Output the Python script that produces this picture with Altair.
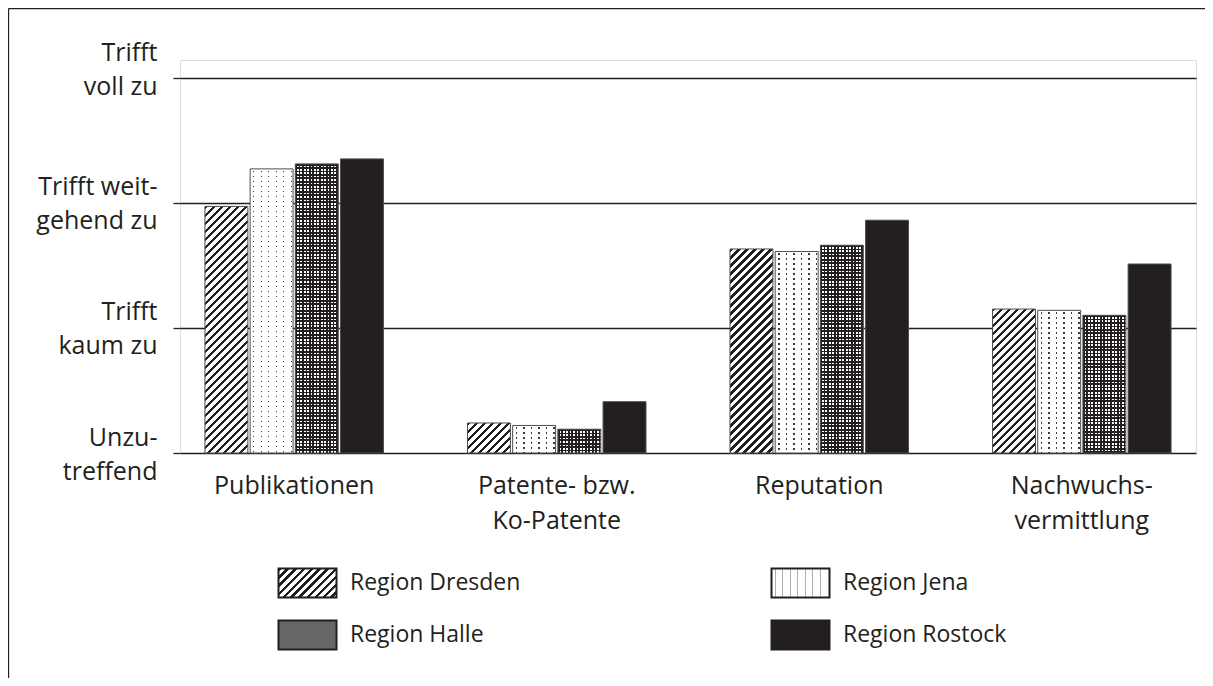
import altair as alt
import pandas as pd

# ---------------- data ----------------
categories = ["Publikationen", "Patente- bzw. Ko-Patente", "Reputation", "Nachwuchsvermittlung"]
category_lines = [["Publikationen"], ["Patente- bzw.", "Ko-Patente"], ["Reputation"], ["Nachwuchs-", "vermittlung"]]
regions = ["Region Dresden", "Region Jena", "Region Halle", "Region Rostock"]
dresden = [2.97, 1.24, 2.63, 2.15]
jena = [3.27, 1.22, 2.61, 2.14]
halle = [3.31, 1.19, 2.66, 2.10]
rostock = [3.35, 1.41, 2.86, 2.51]
tick_values = [1, 2, 3, 4]
tick_lines = [["Unzu-", "treffend"], ["Trifft", "kaum zu"], ["Trifft weit-", "gehend zu"], ["Trifft", "voll zu"]]

series = [dresden, jena, halle, rostock]
rows = []
for ci, cat in enumerate(categories):
    for region, vals in zip(regions, series):
        rows.append({"category": cat, "region": region, "value": vals[ci]})
df = pd.DataFrame(rows)

INK = "#231f20"
FONT = "Open Sans"
CLEAR = "rgba(255,255,255,0)"


def stops_js(n, segments):
    out = []
    for k in range(n):
        for s, e, col in segments:
            out.append("{offset:%.5f,color:'%s'}" % ((k + s) / n, col))
            out.append("{offset:%.5f,color:'%s'}" % ((k + e) / n, col))
    return "[" + ",".join(out) + "]"


# hatch (diagonal) pattern: period 8px along x+y
HATCH_N, HATCH_P = 45, 8.0
HATCH_L = HATCH_N * HATCH_P
hatch_stops = stops_js(HATCH_N, [(0, 0.42, INK), (0.42, 1.0, "#ffffff")])

# Jena dots: vertical thin lines + white rows overlay
JV_N, JV_P = 7, 7.5
JV_L = JV_N * JV_P
jena_v_stops = stops_js(JV_N, [(0, 0.42, "#ffffff"), (0.42, 0.58, "#3a3a3a"), (0.58, 1.0, "#ffffff")])
JH_N, JH_P = 66, 5.0
JH_L = JH_N * JH_P
jena_h_stops = stops_js(JH_N, [(0, 0.36, "#ffffff"), (0.36, 0.64, CLEAR), (0.64, 1.0, "#ffffff")])

# Halle checker: vertical black/white stripes + horizontal black/clear overlay
HV_N, HV_P = 15, 3.4
HV_L = HV_N * HV_P
halle_v_stops = stops_js(HV_N, [(0, 0.5, INK), (0.5, 1.0, "#ffffff")])
HH_N, HH_P = 95, 3.4
HH_L = HH_N * HH_P
halle_h_stops = stops_js(HH_N, [(0, 0.5, INK), (0.5, 1.0, CLEAR)])

W = "bandwidth('xOffset')"
H = "(scale('y',1)-scale('y',datum.value))"

hatch_expr = ("{gradient:'linear',x1:0,y1:0,x2:(%s)*%g/((%s)*(%s)+%s*%s),y2:%s*%g/((%s)*(%s)+%s*%s),stops:%s}"
              % (W, HATCH_L, W, W, H, H, H, HATCH_L, W, W, H, H, hatch_stops))
jena_v_expr = "{gradient:'linear',x1:0,y1:0,x2:%g/(%s),y2:0,stops:%s}" % (JV_L, W, jena_v_stops)
jena_h_expr = "{gradient:'linear',x1:0,y1:0,x2:0,y2:%g/%s,stops:%s}" % (JH_L, H, jena_h_stops)
halle_v_expr = "{gradient:'linear',x1:0,y1:0,x2:%g/(%s),y2:0,stops:%s}" % (HV_L, W, halle_v_stops)
halle_h_expr = "{gradient:'linear',x1:0,y1:0,x2:0,y2:%g/%s,stops:%s}" % (HH_L, H, halle_h_stops)

base_fill = ("datum.region=='%s'?%s:datum.region=='%s'?%s:datum.region=='%s'?%s:'%s'"
             % (regions[0], hatch_expr, regions[1], jena_v_expr, regions[2], halle_v_expr, INK))
over_fill = ("datum.region=='%s'?%s:datum.region=='%s'?%s:'%s'"
             % (regions[1], jena_h_expr, regions[2], halle_h_expr, CLEAR))

# legend symbol gradients (symbol box 58 x 29)
LW, LH = 58.0, 29.0
legend_hatch = ("{gradient:'linear',x1:0,y1:0,x2:%g,y2:%g,stops:%s}"
                % (LW * HATCH_L / (LW * LW + LH * LH), LH * HATCH_L / (LW * LW + LH * LH), hatch_stops))
legend_jena = "{gradient:'linear',x1:0,y1:0,x2:%g,y2:0,stops:%s}" % (
    JV_L / LW, stops_js(JV_N, [(0, 0.42, "#ffffff"), (0.42, 0.58, "#b0b0b0"), (0.58, 1.0, "#ffffff")]))
legend_range = [{"expr": legend_hatch}, {"expr": legend_jena}, "#666666", INK]


def lines_expr(keys, lines, is_num):
    parts = []
    for k, ls in zip(keys, lines):
        key = str(k) if is_num else "'%s'" % k
        arr = "[" + ",".join("'%s'" % l for l in ls) + "]"
        parts.append("datum.value==%s?%s" % (key, arr))
    return ":".join(parts) + ":''"


x_enc = alt.X(
    "category:N", sort=categories,
    scale=alt.Scale(paddingInner=0.32, paddingOuter=0.095),
    axis=alt.Axis(title=None, ticks=False, domain=False, labelAngle=0, labelPadding=20,
                  labelFont=FONT, labelFontSize=25, labelColor=INK, labelLineHeight=35,
                  labelBaseline="top", labelOverlap=False,
                  labelExpr=lines_expr(categories, category_lines, False)),
)
xo_enc = alt.XOffset("region:N", sort=regions, scale=alt.Scale(paddingInner=0.05, paddingOuter=0))
y_enc = alt.Y(
    "value:Q",
    scale=alt.Scale(domain=[1, 4.14], zero=False, nice=False),
    axis=alt.Axis(title=None, values=tick_values, domain=False, tickSize=7, tickColor=INK, tickWidth=1.3,
                  grid=True, gridColor=INK, gridWidth=1.3, labelPadding=16, labelFont=FONT,
                  labelFontSize=25, labelColor=INK, labelLineHeight=34, labelBaseline="middle",
                  labelOverlap=False, labelFlush=False,
                  labelOffset={"condition": {"test": "datum.value == 4", "value": -25}, "value": -16},
                  labelExpr=lines_expr(tick_values, tick_lines, True)),
)
x_plain = alt.X("category:N", sort=categories)
xo_plain = alt.XOffset("region:N", sort=regions)

base = alt.Chart(df)
bars = base.mark_bar(strokeWidth=0).encode(
    x=x_enc, xOffset=xo_enc, y=y_enc, y2=alt.datum(1), fill=alt.value({"expr": base_fill})
)
overlay = base.mark_bar(stroke="#4d4d4d", strokeWidth=1).encode(
    x=x_plain, xOffset=xo_plain, y="value:Q", y2=alt.datum(1), fill=alt.value({"expr": over_fill})
)
legend_layer = base.mark_bar(opacity=0).encode(
    x=x_plain, xOffset=xo_plain, y="value:Q", y2=alt.datum(1),
    fill=alt.Fill("region:N", sort=regions, scale=alt.Scale(domain=regions, range=legend_range),
                  legend=alt.Legend(title=None, orient="none", direction="horizontal",
                                    values=regions, legendX=112, legendY=507.5, columns=2,
                                    columnPadding=246, rowPadding=15, padding=0,
                                    symbolType="M-2,-1H2V1H-2Z", symbolSize=841,
                                    symbolStrokeColor=INK, symbolStrokeWidth=2, symbolOpacity=1,
                                    labelFont=FONT, labelFontSize=23, labelColor=INK, labelOffset=27,
                                    labelLimit=400)),
)

frame_df = pd.DataFrame({"f": [0]})
frame_left = alt.Chart(frame_df).mark_rule(color=INK, strokeWidth=1.3).encode(
    x=alt.value(-171.5), y=alt.value(-51.5), y2=alt.value(640)
)
frame_top = alt.Chart(frame_df).mark_rule(color=INK, strokeWidth=1.3).encode(
    x=alt.value(-171.5), x2=alt.value(1040), y=alt.value(-51.5)
)

chart = alt.layer(bars, overlay, legend_layer, frame_left, frame_top).properties(
    width=1016, height=393,
    autosize=alt.AutoSizeParams(type="none"),
    padding={"left": 172, "top": 52, "right": 9, "bottom": 225},
).configure_view(stroke=INK, strokeWidth=1.3).configure(background="white")

chart.save("out.html", embed_options={"renderer": "svg", "actions": False})
